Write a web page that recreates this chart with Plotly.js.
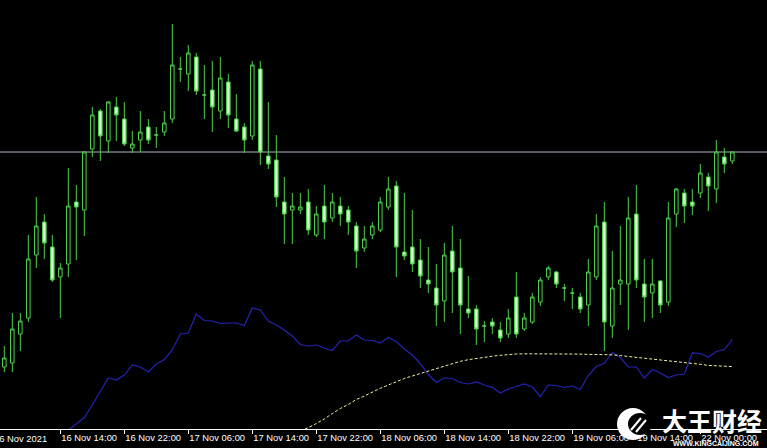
<!DOCTYPE html>
<html>
<head>
<meta charset="utf-8">
<script src="https://cdn.plot.ly/plotly-3.0.1.min.js"></script>
<style>
  html, body { margin: 0; padding: 0; background: #000; }
  #chart { width: 767px; height: 448px; }
</style>
</head>
<body>
<div id="chart"></div>
<script>
// H1 bars, 16 Nov 2021 07:00 onward (price in chart points)
const openP = [81,85,114,130,193,226,201,171,184,246,
  238,299,337,307,341,329,300,308,321,313,
  316,329,379,374,391,353,358,337,366,329,
  321,312,379,292,288,246,238,238,246,213,
  242,230,242,238,222,200,213,218,241,262,
  196,201,188,168,160,147,197,180,139,139,
  122,126,118,114,151,119,126,146,171,176,
  160,155,151,143,171,226,122,164,164,234,
  164,155,167,146,234,255,246,255,271,259,
  291,287];
const highP = [102,135,135,213,251,234,213,185,280,263,
  297,341,339,347,351,346,317,337,329,321,
  337,424,391,403,395,383,387,391,374,354,
  325,387,387,346,313,271,255,255,259,242,
  263,255,251,242,226,222,226,251,271,267,
  255,238,209,201,184,205,222,209,172,143,
  127,130,126,139,176,135,155,171,182,177,
  164,160,155,189,234,246,197,222,251,263,
  189,189,168,246,260,259,259,284,275,308,
  300,297];
const lowP = [76,76,97,126,180,189,166,130,171,188,
  212,291,287,295,307,302,295,296,304,300,
  312,325,366,357,353,329,316,329,320,316,
  295,308,283,279,241,204,204,234,213,211,
  209,226,222,213,180,196,209,216,238,171,
  188,176,160,155,122,126,135,114,130,103,
  106,114,106,110,110,117,124,142,168,160,
  147,139,135,122,168,97,110,143,118,160,
  126,130,135,142,221,225,233,250,237,245,
  275,284];
const closeP = [90,119,127,189,222,205,168,180,242,241,
  296,333,312,346,333,304,304,316,308,313,
  325,383,379,395,357,353,341,370,333,317,
  308,383,296,284,251,234,242,241,218,234,
  226,246,234,226,197,209,222,246,259,201,
  192,184,172,164,143,193,176,143,135,119,
  122,122,110,130,114,130,151,168,180,164,
  160,155,139,176,222,126,160,168,230,168,
  151,164,143,230,259,242,242,275,262,296,
  284,296];

// blue indicator line (same price panel)
const blueLine = [null,null,null,null,null,null,null,8,18,24,
  30.5,43,57,70,68,73,83,81,76,84,
  88.5,98,114,115,134,127.5,127,124.5,125,125,
  122.5,140,138,127,123,118,112,103.5,102,103,
  100,97.5,107,107,113,108,107.5,105,110.5,106.5,
  99,93,84.5,73.5,65.5,70,69.5,65.5,64,66,
  63,60.7,55,59,61.5,64,61,51.5,63,62.5,
  60.5,62,58.5,72.5,81.5,84.7,95.5,90.5,81,81,
  70,78.5,75,70.5,73,74,95,94.5,91,96.5,
  98.5,108.5];

// yellow dotted moving average
const yellowLine = [null,null,null,null,null,null,null,null,null,null,
  null,null,null,null,null,null,null,null,null,null,
  null,null,null,null,null,null,null,null,null,null,
  null,null,null,null,null,null,null,17,20.3,24.5,
  29,34.5,39.5,43.5,48.5,52,56,59.7,63,66.5,
  69.5,72,74.5,77,79.5,82,84.5,86.7,88.3,89.7,
  90.8,91.8,92.7,93.5,94,94.2,94.3,94.3,94.3,94.2,
  94,94,93.9,93.8,93.6,93.4,93.2,92.4,91.6,90.8,
  89.7,88.7,87.8,87.1,86.4,85.7,84.7,83.7,82.6,82.1,
  81.7,81.4];

const levelLine = 296;

const tickVals = [7,15,23,31,39,47,55,63,71,79,87];
const tickText = ['16 Nov 14:00','16 Nov 22:00','17 Nov 06:00','17 Nov 14:00','17 Nov 22:00',
  '18 Nov 06:00','18 Nov 14:00','18 Nov 22:00','19 Nov 06:00','19 Nov 14:00','22 Nov 00:00'];
const firstLabel = '16 Nov 2021';

const barIdx = openP.map((_, i) => i);

const green = '#4ccf4c';
const traces = [
  {
    type: 'candlestick',
    x: barIdx, open: openP, high: highP, low: lowP, close: closeP,
    increasing: { line: { color: green, width: 1 }, fillcolor: '#000000' },
    decreasing: { line: { color: green, width: 1 }, fillcolor: '#d6f7cf' },
    whiskerwidth: 0,
    hoverinfo: 'skip',
    showlegend: false
  },
  {
    type: 'scatter', mode: 'lines',
    x: barIdx, y: blueLine,
    line: { color: '#2424b4', width: 1.2 },
    hoverinfo: 'skip', showlegend: false
  },
  {
    type: 'scatter', mode: 'lines',
    x: barIdx, y: yellowLine,
    line: { color: '#f2efa0', width: 1, dash: '3px,2px' },
    hoverinfo: 'skip', showlegend: false
  }
];

const W = 767, H = 448, plotH = 429;
const px = v => v / W;
const py = v => (plotH - v) / plotH;

const tickFont = { family: 'Liberation Sans, Arial, sans-serif', size: 9.4, color: '#ffffff' };

const layout = {
  width: W, height: H,
  margin: { l: 0, r: 0, t: 0, b: H - plotH, pad: 0 },
  paper_bgcolor: '#000000',
  plot_bgcolor: '#000000',
  boxgap: 0.36,
  showlegend: false,
  xaxis: {
    type: 'linear',
    range: [-0.5375, 95.3375],
    rangeslider: { visible: false },
    showgrid: false, zeroline: false,
    showline: true, linecolor: '#ffffff', linewidth: 1,
    ticks: 'outside', ticklen: 4, tickcolor: '#ffffff', tickwidth: 1,
    tickmode: 'array', tickvals: tickVals, ticktext: tickText,
    ticklabelposition: 'outside right',
    tickangle: 0,
    ticklabelstandoff: 0,
    tickfont: tickFont,
    fixedrange: true
  },
  yaxis: {
    range: [19, 448],
    visible: false,
    showgrid: false, zeroline: false,
    fixedrange: true
  },
  shapes: [
    { type: 'line', xref: 'paper', x0: 0, x1: 1, yref: 'y', y0: levelLine, y1: levelLine,
      line: { color: '#a9b3c6', width: 1 }, layer: 'below' },
    { type: 'circle', xref: 'paper', yref: 'paper', layer: 'above',
      x0: px(617), x1: px(649), y0: py(440), y1: py(408),
      fillcolor: '#ffffff', line: { width: 0 } },
    { type: 'circle', xref: 'paper', yref: 'paper', layer: 'above',
      x0: px(628), x1: px(652), y0: py(435), y1: py(413),
      fillcolor: '#000000', line: { width: 0 } },
    { type: 'line', xref: 'paper', yref: 'paper', layer: 'above',
      x0: px(631), x1: px(641), y0: py(430), y1: py(418), line: { color: '#ffffff', width: 2 } },
    { type: 'line', xref: 'paper', yref: 'paper', layer: 'above',
      x0: px(636), x1: px(646), y0: py(432), y1: py(420), line: { color: '#ffffff', width: 2 } }
  ],
  annotations: [
    { xref: 'paper', yref: 'paper', x: px(-8), y: py(438), xanchor: 'left', yanchor: 'middle',
      text: firstLabel, showarrow: false, font: tickFont },
    { xref: 'paper', yref: 'paper', x: px(712), y: py(420), xanchor: 'center', yanchor: 'middle',
      text: '<b>大王财经</b>', showarrow: false,
      font: { family: 'Noto Sans CJK SC', size: 25, color: '#ffffff' } },
    { xref: 'paper', yref: 'paper', x: px(716), y: py(443), xanchor: 'center', yanchor: 'middle',
      text: '<b>WWW.KINGCAIJING.COM</b>', showarrow: false,
      font: { family: 'Liberation Sans, Arial, sans-serif', size: 7, color: '#ffffff' } }
  ]
};

Plotly.newPlot('chart', traces, layout, { displayModeBar: false, staticPlot: true });
</script>
</body>
</html>
